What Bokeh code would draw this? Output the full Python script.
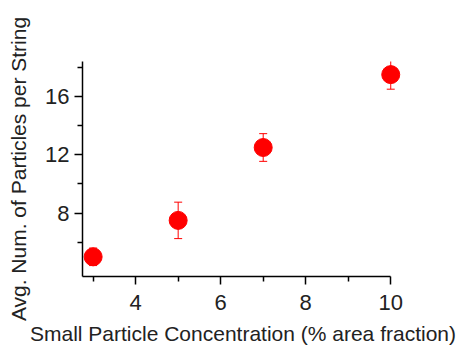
from bokeh.plotting import figure
from bokeh.models import ColumnDataSource, Whisker, FixedTicker, Range1d
from bokeh.embed import file_html
from bokeh.resources import INLINE

concentration = [3, 5, 7, 10]
avg_particles = [5.0, 7.5, 12.5, 17.5]
error = [0.6, 1.25, 0.95, 1.0]

x_major_ticks = [4, 6, 8, 10]
x_minor_ticks = [3, 5, 7, 9]
x_tick_labels = ["4", "6", "8", "10"]
y_major_ticks = [8, 12, 16]
y_minor_ticks = [6, 10, 14, 18]
y_tick_labels = ["8", "12", "16"]

src = ColumnDataSource(dict(
    x=concentration, y=avg_particles,
    lower=[v - e for v, e in zip(avg_particles, error)],
    upper=[v + e for v, e in zip(avg_particles, error)],
))

p = figure(width=460, height=347, output_backend="svg", toolbar_location=None,
           x_range=Range1d(2.75, 10.3), y_range=Range1d(3.65, 18.4),
           min_border_left=82, min_border_right=57, min_border_top=61, min_border_bottom=69)
p.outline_line_color = None
p.grid.visible = False
p.background_fill_color = "white"
p.border_fill_color = "white"

w = Whisker(source=src, base="x", lower="lower", upper="upper",
            line_color="red", line_width=1)
w.upper_head.line_color = "red"
w.lower_head.line_color = "red"
w.upper_head.size = 8
w.lower_head.size = 8
p.add_layout(w)

p.scatter("x", "y", source=src, size=18, fill_color="red", line_color="red")

for ax, majors, minors, labels in ((p.xaxis[0], x_major_ticks, x_minor_ticks, x_tick_labels),
                                   (p.yaxis[0], y_major_ticks, y_minor_ticks, y_tick_labels)):
    ax.ticker = FixedTicker(ticks=majors, minor_ticks=minors)
    ax.major_label_overrides = {t: l for t, l in zip(majors, labels)}
    ax.major_tick_out = 8
    ax.major_tick_in = 0
    ax.minor_tick_out = 5
    ax.minor_tick_in = 0
    ax.axis_line_width = 1.5
    ax.major_tick_line_width = 1.5
    ax.minor_tick_line_width = 1.5
    ax.axis_line_color = "black"
    ax.major_tick_line_color = "black"
    ax.minor_tick_line_color = "black"
    ax.major_label_text_font = "Liberation Sans"
    ax.major_label_text_font_size = "22px"
    ax.major_label_text_color = "#222222"
    ax.axis_label_text_font = "Liberation Sans"
    ax.axis_label_text_font_size = "21px"
    ax.axis_label_text_font_style = "normal"
    ax.axis_label_text_color = "#222222"

p.xaxis.bounds = (2.75, 10.0)
p.xaxis.axis_label = "Small Particle Concentration (% area fraction)"
p.yaxis.axis_label = "Avg. Num. of Particles per String"
p.xaxis.major_label_standoff = 10
p.yaxis.major_label_standoff = 5
p.xaxis.axis_label_standoff = 9
p.yaxis.axis_label_standoff = 12

open("out.html", "w").write(file_html(p, INLINE))
